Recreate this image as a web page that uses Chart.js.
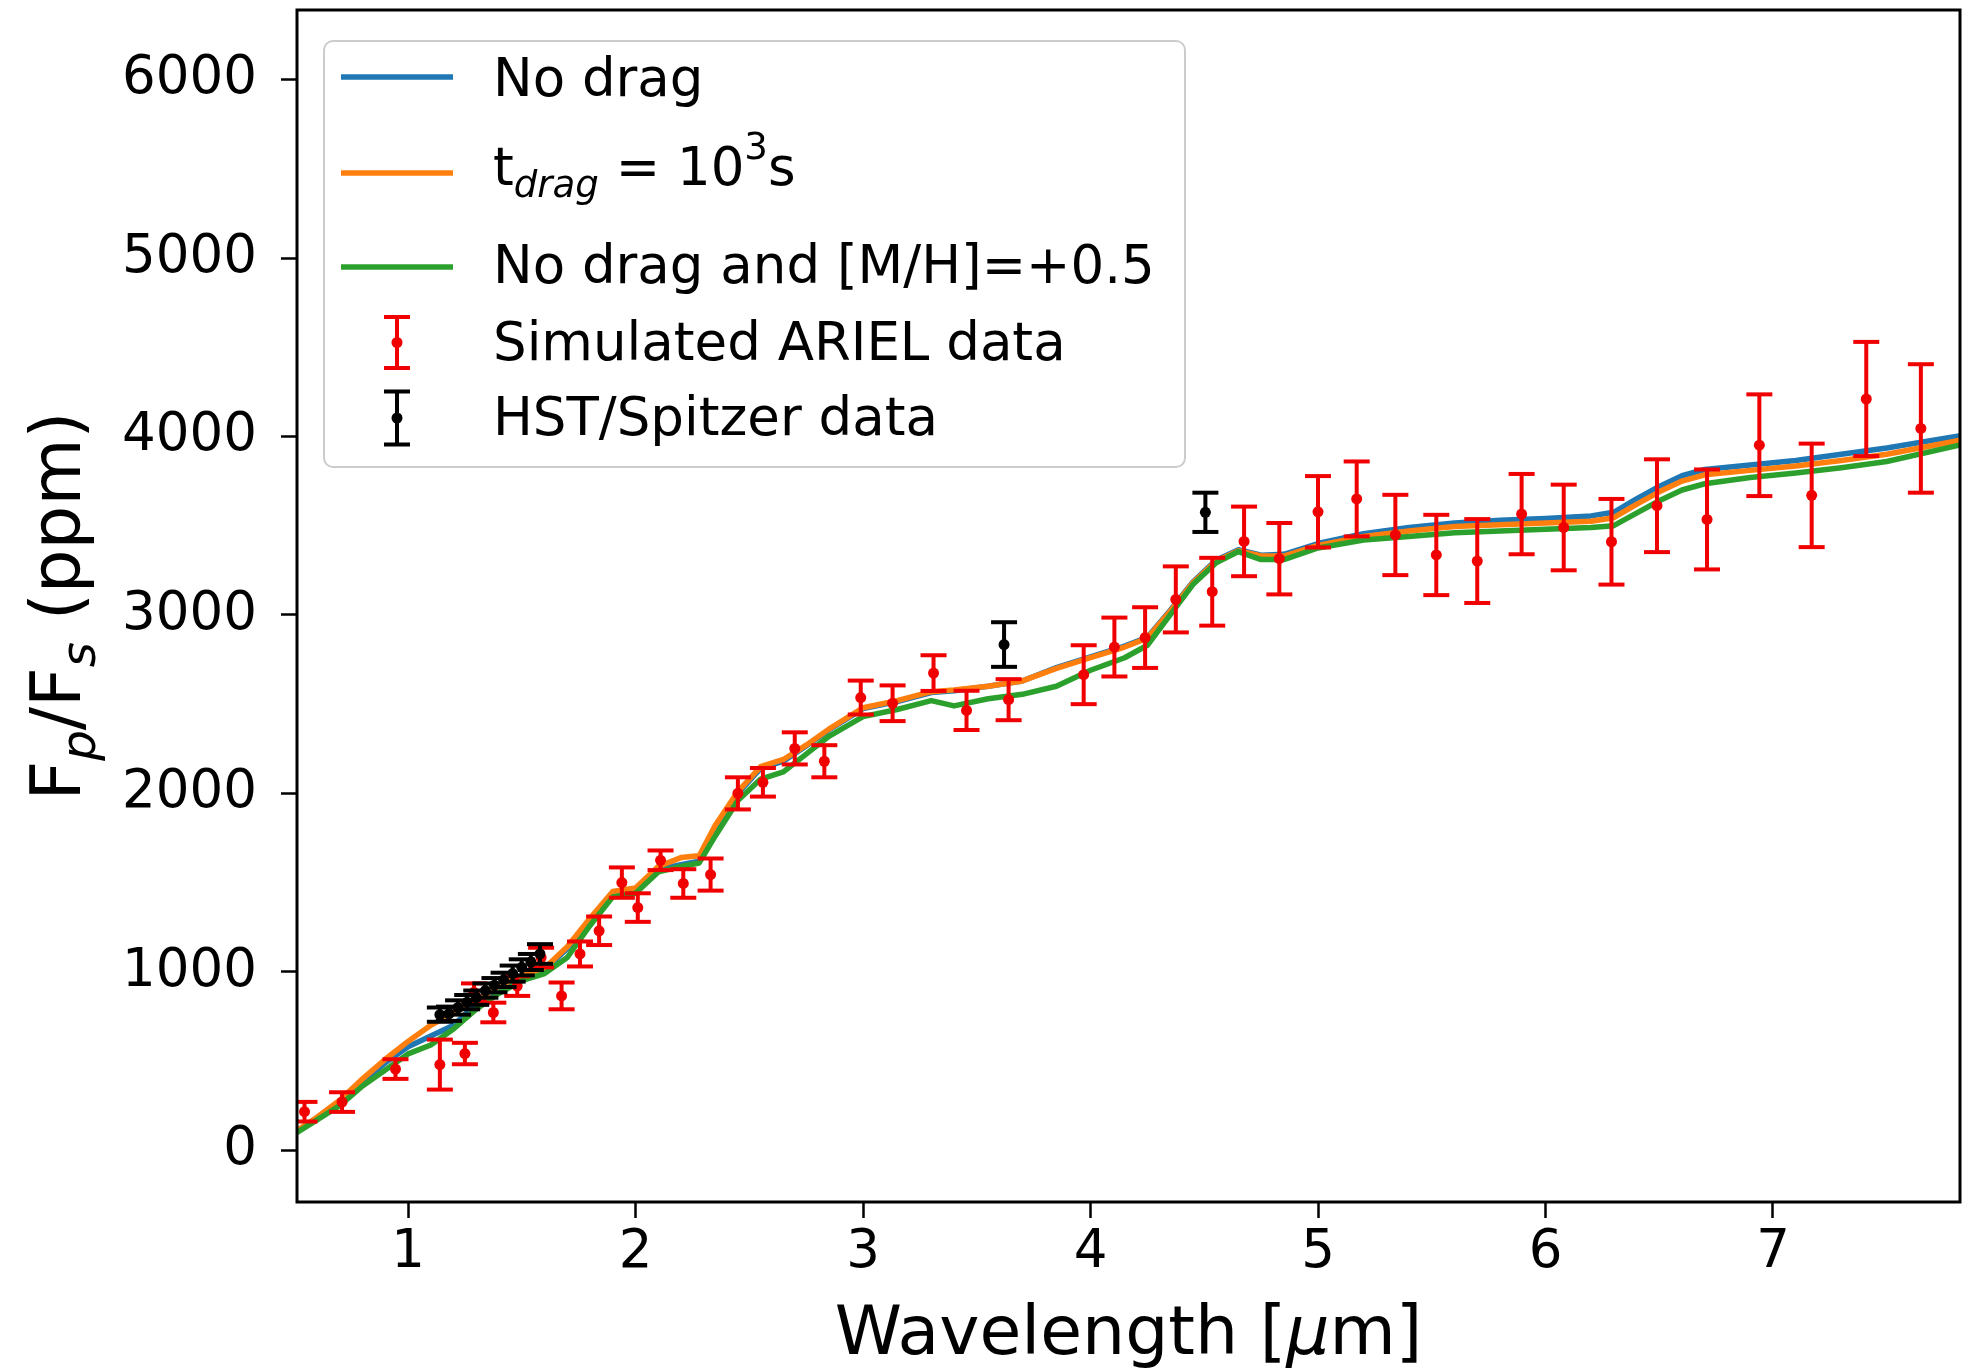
<!DOCTYPE html>
<html>
<head>
  <title>Dayside emission spectrum</title>
  <script src="https://cdn.jsdelivr.net/npm/chart.js"></script>
  <style>
    html, body { margin: 0; padding: 0; background: #fff; }
  </style>
</head>
<body>
  <canvas id="spectrum-chart" width="1968" height="1370"></canvas>
  <script>
    // Model spectra (wavelength in micron, Fp/Fs in ppm)
    const modelWl = [0.50, 0.60, 0.70, 0.80, 0.90, 1.00, 1.10, 1.20, 1.30, 1.40, 1.50, 1.60, 1.70, 1.80, 1.90, 2.00,
      2.10, 2.20, 2.28, 2.35, 2.45, 2.55, 2.65, 2.75, 2.85, 3.00, 3.15, 3.30, 3.40, 3.55, 3.70, 3.85, 4.00, 4.15,
      4.25, 4.35, 4.45, 4.55, 4.65, 4.75, 4.85, 5.00, 5.20, 5.40, 5.60, 5.80, 6.00, 6.20, 6.30, 6.40, 6.50, 6.60,
      6.70, 6.90, 7.10, 7.30, 7.50, 7.85];
    const noDrag = [95, 180, 270, 385, 490, 580, 640, 700, 820, 905, 970, 1010, 1130, 1290, 1440, 1460,
      1575, 1600, 1620, 1800, 2000, 2140, 2180, 2265, 2355, 2475, 2515, 2565, 2575, 2600, 2630, 2705, 2765, 2825,
      2875, 3025, 3185, 3305, 3365, 3335, 3340, 3400, 3455, 3490, 3515, 3530, 3540, 3555, 3575, 3650, 3720, 3780,
      3815, 3840, 3865, 3900, 3935, 4010];
    const drag1e3 = [100, 185, 280, 400, 510, 610, 700, 770, 840, 920, 980, 1020, 1140, 1300, 1450, 1470,
      1590, 1640, 1650, 1820, 2010, 2150, 2190, 2270, 2360, 2480, 2520, 2570, 2580, 2600, 2630, 2700, 2760, 2820,
      2870, 3020, 3180, 3300, 3360, 3330, 3330, 3390, 3440, 3470, 3495, 3505, 3515, 3525, 3545, 3620, 3690, 3750,
      3785, 3810, 3835, 3865, 3900, 3985];
    const noDragMetal = [90, 170, 250, 360, 450, 540, 590, 680, 790, 880, 950, 990, 1080, 1260, 1420, 1440,
      1560, 1590, 1610, 1760, 1960, 2080, 2120, 2220, 2320, 2430, 2470, 2520, 2490, 2530, 2555, 2600, 2690, 2760,
      2830, 3000, 3170, 3290, 3355, 3310, 3310, 3375, 3420, 3440, 3460, 3470, 3480, 3490, 3500, 3570, 3640, 3700,
      3735, 3770, 3795, 3825, 3860, 3960];

    // Simulated ARIEL points
    const arielWl = [0.545, 0.71, 0.945, 1.14, 1.25, 1.29, 1.375, 1.48, 1.585, 1.675, 1.756, 1.84, 1.94, 2.01,
      2.11, 2.21, 2.33, 2.45, 2.56, 2.70, 2.83, 2.99, 3.13, 3.31, 3.455, 3.64, 3.97, 4.105, 4.24, 4.375, 4.535,
      4.675, 4.83, 5.00, 5.17, 5.34, 5.52, 5.70, 5.895, 6.08, 6.29, 6.49, 6.71, 6.94, 7.17, 7.41, 7.65];
    const arielVal = [216, 270, 455, 480, 542, 885, 772, 920, 1080, 865, 1100, 1230, 1500, 1360,
      1625, 1495, 1545, 2000, 2062, 2252, 2180, 2537, 2505, 2674, 2465, 2525, 2665, 2820, 2873, 3087, 3130,
      3412, 3315, 3578, 3650, 3448, 3336, 3302, 3565, 3490, 3410, 3612, 3535, 3951, 3670, 4210, 4045];
    const arielErr = [55, 55, 55, 140, 60, 50, 55, 55, 55, 75, 70, 80, 85, 80,
      55, 80, 90, 90, 80, 90, 90, 95, 100, 100, 110, 115, 165, 165, 170, 185, 190,
      195, 200, 200, 210, 225, 225, 235, 225, 240, 240, 260, 280, 285, 290, 320, 360];

    // HST WFC3 + Spitzer points
    const obsWl = [1.14, 1.18, 1.22, 1.26, 1.30, 1.34, 1.38, 1.42, 1.46, 1.50, 1.54, 1.58, 3.62, 4.505];
    const obsVal = [760, 765, 800, 830, 855, 895, 925, 955, 990, 1025, 1055, 1100, 2834, 3575];
    const obsErr = [40, 40, 40, 40, 40, 40, 40, 40, 45, 45, 45, 55, 125, 110];

    const xTicks = [1, 2, 3, 4, 5, 6, 7];
    const yTicks = [0, 1000, 2000, 3000, 4000, 5000, 6000];

    const BLUE = '#1f77b4', ORANGE = '#ff7f0e', GREEN = '#2ca02c', RED = '#f00000', BLACK = '#000000';
    const FONT = '"DejaVu Sans"';

    function pairs(xs, ys) {
      return xs.map((x, i) => ({ x: x, y: ys[i] }));
    }
    function barSegments(xs, ys, es) {
      const pts = [];
      xs.forEach((x, i) => {
        pts.push({ x: x, y: ys[i] - es[i] }, { x: x, y: ys[i] + es[i] }, { x: x, y: null });
      });
      return pts;
    }
    function capPoints(xs, ys, es) {
      const pts = [];
      xs.forEach((x, i) => {
        pts.push({ x: x, y: ys[i] - es[i] }, { x: x, y: ys[i] + es[i] });
      });
      return pts;
    }

    function modelLine(label, ys, color, order) {
      return {
        type: 'line', label: label, data: pairs(modelWl, ys), borderColor: color,
        borderWidth: 5.5, pointRadius: 0, tension: 0, order: order, borderJoinStyle: 'round'
      };
    }
    function errorSets(label, xs, ys, es, color, order) {
      return [
        { type: 'line', label: label + ' bars', data: barSegments(xs, ys, es), borderColor: color,
          borderWidth: 4, pointRadius: 0, spanGaps: false, order: order, borderCapStyle: 'butt' },
        { type: 'scatter', label: label + ' caps', data: capPoints(xs, ys, es), pointStyle: 'line',
          pointRadius: 13, borderColor: color, pointBorderWidth: 4, borderWidth: 4, order: order },
        { type: 'scatter', label: label, data: pairs(xs, ys), pointStyle: 'circle',
          pointRadius: 5.5, backgroundColor: color, borderColor: color, borderWidth: 0, order: order }
      ];
    }

    function runFont(r, size) {
      const s = (r.sub || r.sup) ? size * 0.7 : size;
      return (r.it ? 'italic ' : '') + s + 'px ' + FONT;
    }
    function runsWidth(c, runs, size) {
      let w = 0;
      runs.forEach(r => { c.font = runFont(r, size); w += c.measureText(r.t).width; });
      return w;
    }
    function drawRuns(c, runs, x, y, size) {
      c.textBaseline = 'alphabetic';
      c.textAlign = 'left';
      runs.forEach(r => {
        c.font = runFont(r, size);
        const dy = r.sub ? size * 0.22 : (r.sup ? -size * 0.5 : 0);
        c.fillText(r.t, x, y + dy);
        x += c.measureText(r.t).width;
      });
    }

    function drawErrSymbol(c, x, yc, half, color) {
      c.strokeStyle = color;
      c.fillStyle = color;
      c.lineWidth = 4;
      c.beginPath();
      c.moveTo(x, yc - half); c.lineTo(x, yc + half);
      c.moveTo(x - 13, yc - half); c.lineTo(x + 13, yc - half);
      c.moveTo(x - 13, yc + half); c.lineTo(x + 13, yc + half);
      c.stroke();
      c.beginPath();
      c.arc(x, yc, 5.5, 0, Math.PI * 2);
      c.fill();
    }

    function drawLegend(c) {
      const left = 324, top = 41, right = 1185, bottom = 467, r = 9;
      c.save();
      c.beginPath();
      c.moveTo(left + r, top);
      c.arcTo(right, top, right, bottom, r);
      c.arcTo(right, bottom, left, bottom, r);
      c.arcTo(left, bottom, left, top, r);
      c.arcTo(left, top, right, top, r);
      c.closePath();
      c.fillStyle = 'rgba(255,255,255,0.8)';
      c.fill();
      c.strokeStyle = '#cccccc';
      c.lineWidth = 2;
      c.stroke();

      c.lineWidth = 5.5;
      [[BLUE, 77], [ORANGE, 173], [GREEN, 267]].forEach(([col, y]) => {
        c.strokeStyle = col;
        c.beginPath(); c.moveTo(341, y); c.lineTo(453, y); c.stroke();
      });
      drawErrSymbol(c, 397, 342.5, 25.5, RED);
      drawErrSymbol(c, 397, 418, 26.5, BLACK);

      c.fillStyle = '#000';
      const size = 53, tx = 493;
      drawRuns(c, [{ t: 'No drag' }], tx, 96, size);
      drawRuns(c, [{ t: 't' }, { t: 'drag', sub: true, it: true }, { t: ' = 10' }, { t: '3', sup: true }, { t: 's' }], tx, 185, size);
      drawRuns(c, [{ t: 'No drag and [M/H]=+0.5' }], tx, 283, size);
      drawRuns(c, [{ t: 'Simulated ARIEL data' }], tx, 360, size);
      drawRuns(c, [{ t: 'HST/Spitzer data' }], tx, 435, size);
      c.restore();
    }

    const frameAndLabels = {
      id: 'frameAndLabels',
      afterDatasetsDraw(chart) {
        const c = chart.ctx, a = chart.chartArea;
        c.save();
        c.strokeStyle = '#000';
        c.lineWidth = 3;
        c.strokeRect(a.left, a.top, a.right - a.left, a.bottom - a.top);
        c.restore();
      },
      afterDraw(chart) {
        const c = chart.ctx, a = chart.chartArea;
        c.save();
        c.fillStyle = '#000';
        const xRuns = [{ t: 'Wavelength [' }, { t: 'μ', it: true }, { t: 'm]' }];
        const wx = runsWidth(c, xRuns, 68);
        drawRuns(c, xRuns, (a.left + a.right) / 2 - wx / 2, 1354, 68);

        c.translate(80, (a.top + a.bottom) / 2);
        c.rotate(-Math.PI / 2);
        const yRuns = [{ t: 'F' }, { t: 'p', sub: true, it: true }, { t: '/F' }, { t: 's', sub: true, it: true }, { t: ' (ppm)' }];
        const wy = runsWidth(c, yRuns, 69);
        drawRuns(c, yRuns, -wy / 2, 0, 69);
        c.restore();

        drawLegend(c);
      }
    };

    const datasets = [
      ...errorSets('HST/Spitzer data', obsWl, obsVal, obsErr, BLACK, 0),
      ...errorSets('Simulated ARIEL data', arielWl, arielVal, arielErr, RED, 1),
      modelLine('No drag and [M/H]=+0.5', noDragMetal, GREEN, 2),
      modelLine('t_drag = 10^3 s', drag1e3, ORANGE, 3),
      modelLine('No drag', noDrag, BLUE, 4)
    ];

    const ctx = document.getElementById('spectrum-chart').getContext('2d');
    new Chart(ctx, {
      type: 'line',
      data: { datasets: datasets },
      options: {
        responsive: false,
        animation: false,
        devicePixelRatio: 1,
        layout: { autoPadding: false, padding: { top: 10, right: 8, left: 0, bottom: 0 } },
        plugins: { legend: { display: false }, tooltip: { enabled: false } },
        scales: {
          x: {
            type: 'linear', min: 0.512, max: 7.822,
            afterBuildTicks: s => { s.ticks = xTicks.map(v => ({ value: v })); },
            afterFit: s => { s.height = 168; s.paddingLeft = 0; s.paddingRight = 0; },
            ticks: { font: { family: FONT, size: 53 }, color: '#000', padding: 3, maxRotation: 0, autoSkip: false,
              callback: v => String(v) },
            grid: { drawOnChartArea: false, tickLength: 16, tickWidth: 2.5, tickColor: '#000' },
            border: { display: false }
          },
          y: {
            type: 'linear', min: -290, max: 6390,
            afterBuildTicks: s => { s.ticks = yTicks.map(v => ({ value: v })); },
            afterFit: s => { s.width = 297; s.paddingTop = 0; s.paddingBottom = 0; },
            ticks: { font: { family: FONT, size: 53 }, color: '#000', padding: 24, autoSkip: false,
              callback: v => String(v) },
            grid: { drawOnChartArea: false, tickLength: 16, tickWidth: 2.5, tickColor: '#000' },
            border: { display: false }
          }
        }
      },
      plugins: [frameAndLabels]
    });
  </script>
</body>
</html>
